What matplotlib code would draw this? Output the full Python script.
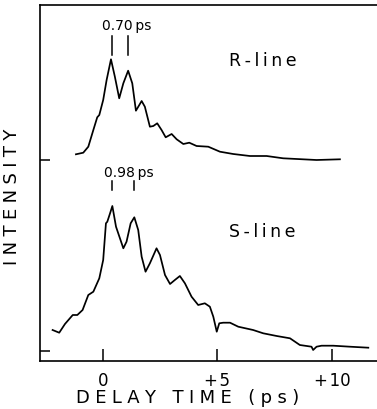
import numpy as np
import matplotlib
matplotlib.use('Agg')
import matplotlib.pyplot as plt

# R-line trace (delay in ps, intensity in arbitrary units above its baseline)
r_time = [-1.18, -0.86, -0.64, -0.42, -0.25, -0.16, 0.01, 0.16, 0.35, 0.52,
          0.71, 0.89, 1.10, 1.28, 1.44, 1.69, 1.83, 2.05, 2.20, 2.37,
          2.56, 2.74, 3.00, 3.22, 3.51, 3.77, 4.09, 4.60, 5.11, 5.69,
          6.42, 7.15, 7.87, 9.33, 10.35]
r_int = [5.7, 7.3, 13.3, 30, 42.7, 45, 60, 80, 100.7, 83.3,
         61.7, 76.7, 89.3, 76.7, 49.3, 59, 53.3, 33.3, 34, 36.7,
         30, 22.7, 26, 20.7, 16, 17.3, 14, 13.3, 8.3, 6,
         4, 4, 1.7, 0, 0.7]

# S-line trace
s_time = [-2.20, -1.91, -1.66, -1.32, -1.12, -0.89, -0.64, -0.42, -0.16, 0.01,
          0.13, 0.19, 0.31, 0.41, 0.57, 0.89, 1.03, 1.21, 1.37, 1.54,
          1.69, 1.86, 2.05, 2.34, 2.49, 2.71, 2.93, 3.14, 3.36, 3.58,
          3.87, 4.16, 4.45, 4.67, 4.82, 4.97, 5.08, 5.25, 5.55, 5.91,
          6.56, 7.00, 7.59, 8.17, 8.60, 9.11, 9.18, 9.33, 9.55, 10.06,
          10.79, 11.59]
s_int = [21, 18.3, 27, 36, 36, 41, 56, 59.3, 72.7, 91,
         127.7, 129.3, 137.7, 145, 124.3, 102.7, 109.3, 127.7, 133.7, 121,
         94.3, 79.3, 87.7, 102.7, 96, 76, 67, 71, 75, 67.7,
         54.3, 46, 47.7, 44.3, 34.3, 19.3, 27.7, 28.3, 28.3, 24.3,
         21, 17.7, 15, 12.7, 6, 4.3, 1, 4.3, 5.3, 5.3,
         4.3, 3.3]

# vertical offsets of the two traces
r_offset = 201
s_offset = 10

# peak-spacing markers
r_marks = [0.38, 1.08]
s_marks = [0.41, 1.37]

xticks = [0, 5, 10]
xticklabels = ['0', '+\u200a5', '+\u200a10']

font = 'DejaVu Sans'


def spaced(s, sep='\u2009'):
    return sep.join(list(s))


fig = plt.figure(figsize=(3.77, 4.09), dpi=100)
ax = fig.add_axes([40 / 377, 48 / 409, 337 / 377, 356 / 409])

ax.plot(r_time, np.array(r_int) + r_offset, color='black', lw=1.25)
ax.plot(s_time, np.array(s_int) + s_offset, color='black', lw=1.25)

for t in r_marks:
    ax.plot([t, t], [r_offset + 105, r_offset + 124], color='black', lw=1.1)
for t in s_marks:
    ax.plot([t, t], [s_offset + 161, s_offset + 170], color='black', lw=1.1)

ax.text(1.05, 335, '0.70\u2009ps', ha='center', va='center', fontsize=10, family=font)
ax.text(1.14, 188, '0.98\u2009ps', ha='center', va='center', fontsize=10, family=font)
ax.text(6.99, 300, spaced('R-line'), ha='center', va='center', fontsize=12.5, family=font)
ax.text(6.97, 129, spaced('S-line'), ha='center', va='center', fontsize=12.5, family=font)

ax.set_xlim(-2.75, 11.97)
ax.set_ylim(0, 356)

ax.set_xticks(xticks)
ax.set_xticklabels(xticklabels, family=font, fontsize=12)
ax.set_yticks([s_offset, r_offset])
ax.set_yticklabels([])
ax.tick_params(axis='x', direction='in', length=9, width=1.1, pad=8)
ax.tick_params(axis='y', direction='in', length=7, width=1.1)

ax.spines['right'].set_visible(False)
for side in ['left', 'top', 'bottom']:
    ax.spines[side].set_linewidth(1.2)

fig.text(187.5 / 377, 1 - 398 / 409, spaced('DELAY TIME (ps)', '\u2009\u200a'),
         ha='center', va='center', fontsize=13, family=font)
fig.text(12 / 377, 1 - 197 / 409, spaced('INTENSITY', '\u2009\u200a'),
         ha='center', va='center', rotation=90, fontsize=13, family=font)

fig.savefig('out.png', dpi=100)
